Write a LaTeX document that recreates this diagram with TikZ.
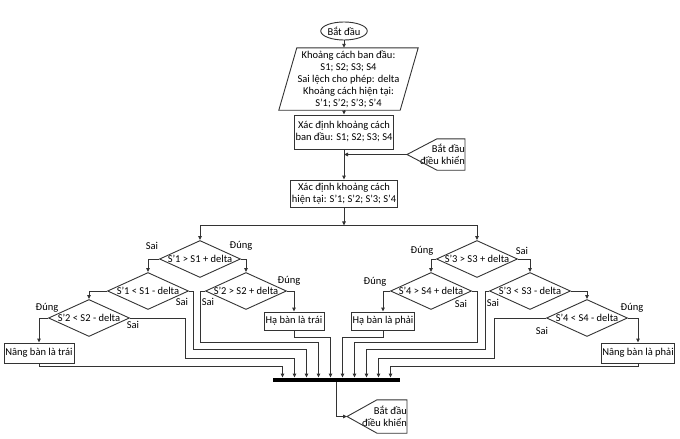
\documentclass[tikz,border=0pt]{standalone}
\usepackage{fontspec}
\setmainfont{Carlito}
\usetikzlibrary{arrows.meta,shapes.geometric}
\newcommand{\condtext}[1]{\makebox[0pt]{#1}}

\begin{document}
\begin{tikzpicture}[x=1pt,y=-1pt,
        font=\fontsize{10.5}{12}\selectfont,
        line/.style={draw=black!80,line width=0.9pt},
        flow/.style={line,-{Triangle[length=4pt,width=3.5pt]}},
        box/.style={line,rectangle,align=center,inner sep=1pt,minimum width=#1},
        box/.default=60,
        decision/.style={line,diamond,inner sep=0pt,minimum width=81,minimum height=37},
        answer/.style={inner sep=0pt},
        offpage/.style={align=right,inner sep=0pt,anchor=east}]
        \useasboundingbox (0,0) rectangle (680,439);

        \node[line,ellipse,minimum width=44,minimum height=18,inner sep=0pt] (start) at (344,31) {Bắt đầu};
        \node[align=center,inner sep=0pt,minimum width=121,minimum height=62] (inp) at (348.5,79)
            {Khoảng cách ban đầu:\\S1; S2; S3; S4\\Sai lệch cho phép: delta\\Khoảng cách hiện tại:\\S’1; S’2; S’3; S’4};
        \draw[line] ([xshift=9]inp.north west) -- ([xshift=9]inp.north east)
            -- ([xshift=-9]inp.south east) -- ([xshift=-9]inp.south west) -- cycle;
        \node[box=96,minimum height=34] (box1) at (344,132) {Xác định khoảng cách\\ban đầu: S1; S2; S3; S4};
        \node[box=96,minimum height=27] (box2) at (344,193.5) {Xác định khoảng cách\\hiện tại: S’1; S’2; S’3; S’4};
        \node[offpage,minimum height=31] (go1) at (465,154.5) {Bắt đầu\\điều khiển};
        \draw[line] (go1.north east) -- (go1.south east) -- ([xshift=-28]go1.south east)
            -- ([xshift=-58]go1.east) -- ([xshift=-28]go1.north east) -- cycle;

        \node[decision] (d1) at (200,259) {\condtext{S’1 > S1 + delta}};
        \node[decision] (d2) at (148,291) {\condtext{S’1 < S1 - delta}};
        \node[decision] (d3) at (246,291) {\condtext{S’2 > S2 + delta}};
        \node[decision] (d4) at (89,318)  {\condtext{S’2 < S2 - delta}};
        \node[decision] (d5) at (477,259) {\condtext{S’3 > S3 + delta}};
        \node[decision] (d6) at (530,291) {\condtext{S’3 < S3 - delta}};
        \node[decision] (d7) at (431,291) {\condtext{S’4 > S4 + delta}};
        \node[decision] (d8) at (587,318) {\condtext{S’4 < S4 - delta}};

        \node[box=60,minimum height=18] (ht) at (294,321) {Hạ bàn là trái};
        \node[box=63,minimum height=18] (hp) at (383,321) {Hạ bàn là phải};
        \node[box=70,minimum height=20] (nt) at (39,353)  {Nâng bàn là trái};
        \node[box=70,minimum height=20] (np) at (638,353) {Nâng bàn là phải};

        \node[fill=black,inner sep=0pt,minimum width=127,minimum height=4.5] (bar) at (336.5,380) {};
        \node[offpage,minimum height=33] (go2) at (407,416.5) {Bắt đầu\\điều khiển};
        \draw[line] (go2.north east) -- (go2.south east) -- ([xshift=-30]go2.south east)
            -- ([xshift=-60]go2.east) -- ([xshift=-30]go2.north east) -- cycle;

        \node[answer] (d1no)  at (152,246) {Sai};
        \node[answer] (d1yes) at (241,246) {Đúng};
        \node[answer] (d2no)  at (182,302) {Sai};
        \node[answer] (d3yes) at (289,281) {Đúng};
        \node[answer] (d3no)  at (208,302) {Sai};
        \node[answer] (d4yes) at (47,308)  {Đúng};
        \node[answer] (d4no)  at (133,325) {Sai};
        \node[answer] (d5yes) at (422,251) {Đúng};
        \node[answer] (d5no)  at (522,251) {Sai};
        \node[answer] (d6no)  at (493,303) {Sai};
        \node[answer] (d7yes) at (375,282) {Đúng};
        \node[answer] (d7no)  at (461,304) {Sai};
        \node[answer] (d8yes) at (632,308) {Đúng};
        \node[answer] (d8no)  at (542,331) {Sai};

        \draw[flow] (start) -- (start |- inp.north);
        \draw[flow] (start |- inp.south) -- (box1);
        \draw[flow] (box1) -- (box2);
        \draw[flow] ([xshift=-58]go1.east) -- (box1 |- go1.east);
        \draw[flow] (box2.south) -- ++(0,18) coordinate (split);
        \draw[flow] (split) -| (d1.north);
        \draw[flow] (split) -| (d5.north);

        \draw[flow] (d1.west) -| (d2.north);
        \draw[flow] (d1.east) -| (d3.north);
        \draw[flow] (d2.west) -| (d4.north);
        \draw[flow] (d4.west) -| (nt.north);
        \draw[flow] (d3.east) -| (ht.north);
        \draw[flow] (d5.west) -| (d7.north);
        \draw[flow] (d5.east) -| (d6.north);
        \draw[flow] (d7.west) -| (hp.north);
        \draw[flow] (d6.east) -| (d8.north);
        \draw[flow] (d8.east) -| (np.north);

        \draw[flow] (nt.south) -- ++(0,3) -| ([xshift=-54]bar.north);
        \draw[flow] (d4.east) -| (185,358) -| ([xshift=-42]bar.north);
        \draw[flow] (d2.east) -| (193,349) -| ([xshift=-30]bar.north);
        \draw[flow] (d3.west) -| (200,342) -| ([xshift=-18]bar.north);
        \draw[flow] (ht.south) -- ++(0,7) -| ([xshift=-6]bar.north);
        \draw[flow] (hp.south) -- ++(0,7) -| ([xshift=6]bar.north);
        \draw[flow] (d7.east) -| (477,342) -| ([xshift=18]bar.north);
        \draw[flow] (d6.west) -| (485,349) -| ([xshift=30]bar.north);
        \draw[flow] (d8.west) -| (494,358) -| ([xshift=42]bar.north);
        \draw[flow] (np.south) -- ++(0,3) -| ([xshift=54]bar.north);
        \draw[flow] (bar.south) |- ([xshift=-60]go2.east);
\end{tikzpicture}
\end{document}
